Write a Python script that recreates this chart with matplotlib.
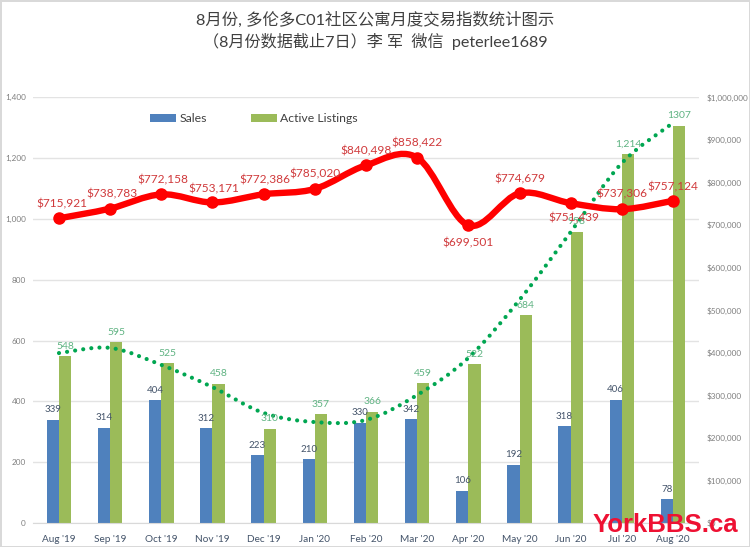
import numpy as np
import matplotlib
matplotlib.use('Agg')
import matplotlib.pyplot as plt
from matplotlib.path import Path
from matplotlib.patches import PathPatch

plt.rcParams['font.family'] = ['Lato', 'Noto Sans CJK SC']

# Data
months = ["Aug '19", "Sep '19", "Oct '19", "Nov '19", "Dec '19", "Jan '20", "Feb '20",
          "Mar '20", "Apr '20", "May '20", "Jun '20", "Jul '20", "Aug '20"]
sales = [339, 314, 404, 312, 223, 210, 330, 342, 106, 192, 318, 406, 78]
listings = [548, 595, 525, 458, 310, 357, 366, 459, 522, 684, 958, 1214, 1307]
listing_labels = ['548', '595', '525', '458', '310', '357', '366', '459', '522', '684', '958', '1,214', '1307']
prices = [715921, 738783, 772158, 753171, 772386, 785020, 840498, 858422, 699501, 774679, 751439, 737306, 757124]
trend = [559, 576, 520, 447, 362, 332, 339, 421, 543, 734, 957, 1184, 1316]

y_left = [0, 200, 400, 600, 800, 1000, 1200, 1400]
y_right = [0, 100000, 200000, 300000, 400000, 500000, 600000, 700000, 800000, 900000, 1000000]

# label offsets from the point, in pixels
price_off = [(3, 14), (2, 15), (2, 14), (1, 14), (1, 14), (0, 15), (0, 14), (0, 15),
             (0, -18), (0, 14), (3, -15), (0, 15), (0, 14)]

c_blue = '#4f81bd'
c_green = '#9bbb59'
c_red = '#ff0000'
c_dots = '#00a651'
px = 0.72  # points in one pixel at dpi 100


# smoothed line like Excel does it, as bezier path through the data points
def smooth_path(x, y):
    x = np.asarray(x, dtype=float)
    y = np.asarray(y, dtype=float)
    verts = [(x[0], y[0])]
    codes = [Path.MOVETO]
    for i in range(len(x) - 1):
        i0 = max(i - 1, 0)
        i3 = min(i + 2, len(x) - 1)
        verts.append((x[i] + (x[i + 1] - x[i0]) / 6, y[i] + (y[i + 1] - y[i0]) / 6))
        verts.append((x[i + 1] - (x[i3] - x[i]) / 6, y[i + 1] - (y[i3] - y[i]) / 6))
        verts.append((x[i + 1], y[i + 1]))
        codes += [Path.CURVE4, Path.CURVE4, Path.CURVE4]
    return Path(verts, codes)


fig = plt.figure(figsize=(7.5, 5.47), dpi=100, facecolor='white', edgecolor='#d9d9d9', linewidth=1)
ax = fig.add_axes([33.4 / 750, 1 - 523 / 547, 665.2 / 750, 425.6 / 547])
ax2 = ax.twinx()
ax.set_position([33.4 / 750, 1 - 523 / 547, 665.2 / 750, 425.6 / 547])
ax2.set_position([33.4 / 750, 1 - 523 / 547, 665.2 / 750, 425.6 / 547])

xpos = np.arange(len(months))
w = 12.2 / 51.17

bars1 = ax.bar(xpos - w / 2, sales, w, color=c_blue, label='Sales', zorder=2)
bars2 = ax.bar(xpos + w / 2, listings, w, color=c_green, label='Active Listings', zorder=2)
ax.add_patch(PathPatch(smooth_path(xpos, trend), fill=False, edgecolor=c_dots, lw=3.0,
                       linestyle=(0, (0.01, 1.95)), capstyle='round', zorder=3))

ax2.add_patch(PathPatch(smooth_path(xpos, prices), fill=False, edgecolor=c_red, lw=4.6,
                        capstyle='round', joinstyle='round', zorder=3))
ax2.plot(xpos, prices, linestyle='none', marker='o', ms=8, color=c_red, zorder=4)

ax.set_xlim(-0.5, len(months) - 0.5)
ax.set_ylim(0, 1400)
ax2.set_ylim(0, 1000000)
ax.set_xticks(xpos)
ax.set_xticklabels(months)
ax.set_yticks(y_left)
ax.set_yticklabels(['{:,}'.format(v) for v in y_left])
ax2.set_yticks(y_right)
ax2.set_yticklabels(['${:,}'.format(v) for v in y_right])

ax.grid(True, axis='y', color='#e3e3e3', linewidth=1, zorder=0)
ax.set_axisbelow(True)
for a in (ax, ax2):
    for s in a.spines.values():
        s.set_visible(False)
ax.spines['bottom'].set_visible(True)
ax.spines['bottom'].set_color('#d9d9d9')
ax.tick_params(axis='x', length=0, pad=8.5, labelsize=7.2, labelcolor='#44546a')
ax.tick_params(axis='y', length=0, pad=5.5, labelsize=5.9, labelcolor='#7f7f7f')
ax2.tick_params(axis='y', length=0, pad=6, labelsize=5.9, labelcolor='#7f7f7f')

# data labels
for i in range(len(months)):
    ax.annotate(str(sales[i]), (xpos[i] - w / 2, sales[i]), xytext=(0, 10 * px), textcoords='offset points',
                ha='center', va='center', fontsize=7, color='#44546a', zorder=5)
    ax.annotate(listing_labels[i], (xpos[i] + w / 2, listings[i]), xytext=(0, 10 * px), textcoords='offset points',
                ha='center', va='center', fontsize=7.5, color='#5fb382', zorder=5)
    ax2.annotate('${:,}'.format(prices[i]), (xpos[i], prices[i]),
                 xytext=(price_off[i][0] * px, price_off[i][1] * px), textcoords='offset points',
                 ha='center', va='center', fontsize=8.6, color='#d0393b', zorder=5)

fig.legend(handles=[bars1, bars2], labels=['Sales', 'Active Listings'], ncol=2, frameon=False,
           loc='center left', bbox_to_anchor=(139 / 750, 1 - 119 / 547), fontsize=8.8,
           handlelength=2.1, handleheight=0.55, handletextpad=0.3, columnspacing=3.6,
           labelcolor='#404040')

fig.text(0.5, 1 - 20 / 547, '8月份, 多伦多C01社区公寓月度交易指数统计图示', ha='center', va='center',
         fontsize=11.8, color='#404040')
fig.text(0.5, 1 - 41 / 547, '（8月份数据截止7日）李 军  微信  peterlee1689', ha='center', va='center',
         fontsize=11.6, color='#404040')

# site watermark
fig.text(665 / 750, 1 - 525 / 547, 'YorkBBS.ca', ha='center', va='center', fontsize=18.5,
         fontweight='bold', color='#ee1133', family=['Liberation Sans'], zorder=10)

fig.savefig('out.png', dpi=100)
